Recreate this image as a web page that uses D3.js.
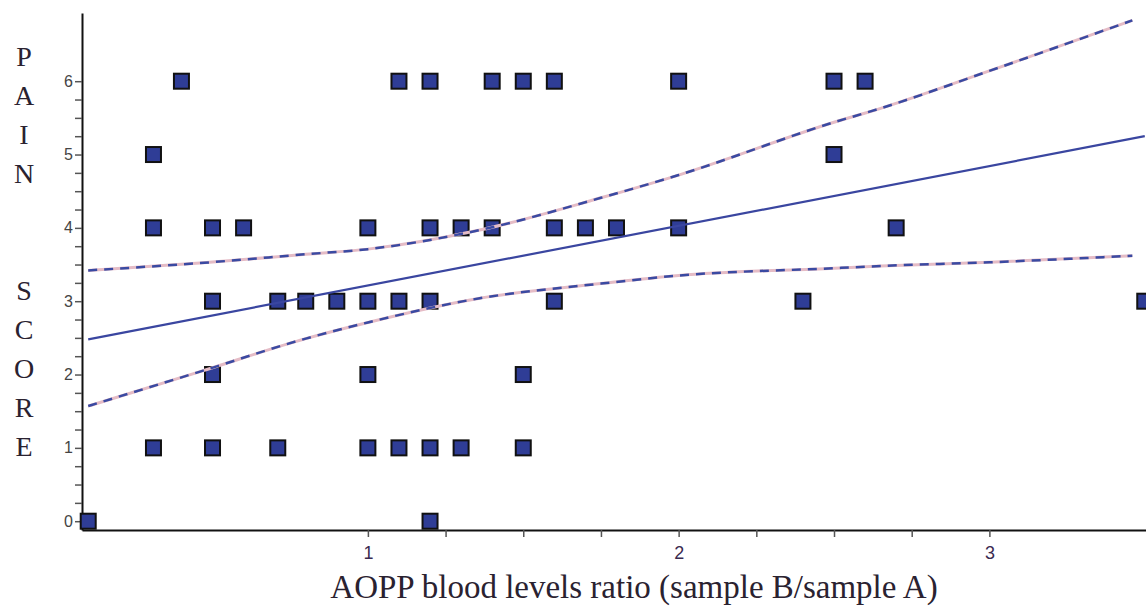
<!DOCTYPE html>
<html>
<head>
<meta charset="utf-8">
<script src="https://cdn.jsdelivr.net/npm/d3@7"></script>
<style>
  body { margin: 0; background: #fff; }
  svg { display: block; }
</style>
</head>
<body>
<div id="chart"></div>
<script>
// data
const ratios = [0.4, 1.1, 1.2, 1.4, 1.5, 1.6, 2.0, 2.5, 2.6,
  0.31, 2.5,
  0.31, 0.5, 0.6, 1.0, 1.2, 1.3, 1.4, 1.6, 1.7, 1.8, 2.0, 2.7,
  0.5, 0.71, 0.8, 0.9, 1.0, 1.1, 1.2, 1.6, 2.4, 3.5,
  0.5, 1.0, 1.5,
  0.31, 0.5, 0.71, 1.0, 1.1, 1.2, 1.3, 1.5,
  0.1, 1.2];
const painScores = [6, 6, 6, 6, 6, 6, 6, 6, 6,
  5, 5,
  4, 4, 4, 4, 4, 4, 4, 4, 4, 4, 4, 4,
  3, 3, 3, 3, 3, 3, 3, 3, 3, 3,
  2, 2, 2,
  1, 1, 1, 1, 1, 1, 1, 1,
  0, 0];

// regression line endpoints and confidence band
const fitX = [0.1, 3.5];
const fitY = [2.48, 5.25];
const bandX = [0.1, 0.46, 0.8, 1.0, 1.36, 1.75, 2.0, 2.5, 2.65, 3.0, 3.46];
const bandUpper = [3.42, 3.52, 3.64, 3.71, 3.97, 4.41, 4.72, 5.44, 5.63, 6.14, 6.83];
const bandLower = [1.57, 2.04, 2.49, 2.71, 3.04, 3.24, 3.35, 3.45, 3.48, 3.53, 3.62];

const xMajor = [1, 2, 3];
const yMajor = [0, 1, 2, 3, 4, 5, 6];
const yTitle = 'PAIN  SCORE';
const xTitle = 'AOPP blood levels ratio (sample B/sample A)';

const W = 1146, H = 610;

const svg = d3.select('#chart').append('svg')
  .attr('width', W).attr('height', H);

const x = d3.scaleLinear().domain([0.08, 3.504]).range([82, 1146]);
const y = d3.scaleLinear().domain([-0.12, 6.93]).range([530, 13]);

// axes
const xAxis = d3.axisBottom(x)
  .tickValues(d3.range(1, 3.001, 0.25))
  .tickSize(7)
  .tickSizeOuter(0)
  .tickFormat(d => xMajor.includes(d) ? d : '');
const gx = svg.append('g')
  .attr('transform', `translate(0,${y(-0.12)})`)
  .call(xAxis);
gx.select('.domain').attr('stroke', '#111').attr('stroke-width', 2);
gx.selectAll('.tick line').attr('stroke', '#555').attr('stroke-width', 1.5);
gx.selectAll('.tick text')
  .attr('font-family', 'Liberation Sans, Arial, sans-serif')
  .attr('font-size', 18)
  .attr('fill', '#3a2a50')
  .attr('dy', '1.05em');

const yAxis = d3.axisLeft(y)
  .tickValues(d3.range(0, 6.001, 0.25))
  .tickSize(7)
  .tickSizeOuter(0)
  .tickFormat(d => yMajor.includes(d) ? d : '');
const gy = svg.append('g')
  .attr('transform', `translate(${x(0.08)},0)`)
  .call(yAxis);
gy.select('.domain').attr('stroke', '#111').attr('stroke-width', 2);
gy.selectAll('.tick line').attr('stroke', '#555').attr('stroke-width', 1.5);
gy.selectAll('.tick text')
  .attr('font-family', 'Liberation Sans, Arial, sans-serif')
  .attr('font-size', 16)
  .attr('fill', '#444')
  .attr('x', -9);

// points
const pts = ratios.map((r, i) => ({r: r, s: painScores[i]}));
const sq = 15;
svg.append('g').selectAll('rect')
  .data(pts)
  .join('rect')
  .attr('x', d => x(d.r) - sq / 2)
  .attr('y', d => y(d.s) - sq / 2)
  .attr('width', sq)
  .attr('height', sq)
  .attr('fill', '#2f3d96')
  .attr('stroke', '#111')
  .attr('stroke-width', 2);

// confidence band lines: pink base, blue dashes
const band = d3.line()
  .x(d => x(d[0]))
  .y(d => y(d[1]))
  .curve(d3.curveMonotoneX);
[bandUpper, bandLower].forEach(vals => {
  const pts2 = bandX.map((bx, i) => [bx, vals[i]]);
  svg.append('path')
    .attr('d', band(pts2))
    .attr('fill', 'none')
    .attr('stroke', '#e5bcc6')
    .attr('stroke-width', 3);
  svg.append('path')
    .attr('d', band(pts2))
    .attr('fill', 'none')
    .attr('stroke', '#3a4aa2')
    .attr('stroke-width', 2.5)
    .attr('stroke-dasharray', '9,7');
});

// regression line
svg.append('path')
  .attr('d', d3.line().x(d => x(d[0])).y(d => y(d[1]))(fitX.map((fx, i) => [fx, fitY[i]])))
  .attr('fill', 'none')
  .attr('stroke', '#3a46a0')
  .attr('stroke-width', 2.2);

// titles
svg.append('text')
  .attr('x', 634)
  .attr('y', 598)
  .attr('text-anchor', 'middle')
  .attr('font-family', 'Liberation Serif, Times New Roman, serif')
  .attr('font-size', 33)
  .attr('fill', '#2a2230')
  .text(xTitle);

svg.append('g').selectAll('text')
  .data(yTitle.split(''))
  .join('text')
  .attr('x', 24)
  .attr('y', (d, i) => 66 + i * 39)
  .attr('text-anchor', 'middle')
  .attr('font-family', 'Liberation Serif, Times New Roman, serif')
  .attr('font-size', 28)
  .attr('fill', '#2a2230')
  .text(d => d);
</script>
</body>
</html>
